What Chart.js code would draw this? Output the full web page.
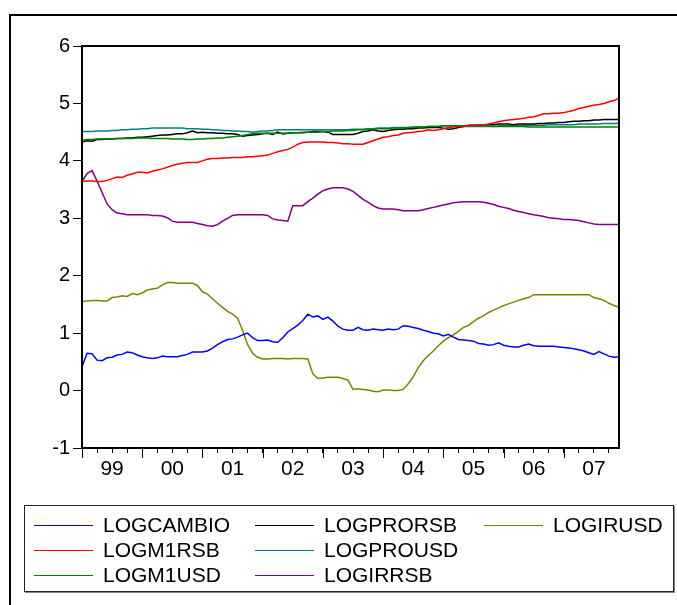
<!DOCTYPE html>
<html><head><meta charset="utf-8">
<script src="https://cdn.jsdelivr.net/npm/chart.js@4"></script>
<style>
html,body{margin:0;padding:0;background:#fff;}
#wrap{position:relative;width:677px;height:605px;overflow:hidden;}
#frame{position:absolute;left:9px;top:14px;width:720px;height:640px;border-left:2px solid #000;border-top:2px solid #000;}
canvas{position:absolute;left:0;top:0;}
#legend{position:absolute;left:24px;top:505px;width:648px;height:85px;border:1px solid #222;box-shadow:1px 1px 0 #888;font-family:"Liberation Sans",Arial,sans-serif;font-size:21px;color:#000;}
.item{position:absolute;display:flex;align-items:center;height:24px;white-space:nowrap;}
.item .l{display:inline-block;width:59px;height:0;border-top:1.5px solid;margin-right:10px;}
</style></head>
<body><div id="wrap"><div id="frame"></div><canvas id="c" width="677" height="605"></canvas><div id="legend"></div></div>
<script>
const years = ['1999','2000','2001','2002','2003','2004','2005','2006','2007'];
const yearTickLabels = ['99','00','01','02','03','04','05','06','07'];
const monthNames = ['01','02','03','04','05','06','07','08','09','10','11','12'];
const categories = [];
years.forEach(y => monthNames.forEach(m => categories.push(y + 'M' + m)));
const yTicks = [-1,0,1,2,3,4,5,6];

const LOGCAMBIO = [0.41,0.65,0.64,0.53,0.52,0.57,0.58,0.62,0.63,0.67,0.66,0.62,
0.59,0.57,0.56,0.57,0.60,0.59,0.59,0.59,0.61,0.63,0.67,0.67,
0.67,0.69,0.74,0.80,0.85,0.89,0.90,0.93,0.97,1.00,0.92,0.87,
0.87,0.88,0.85,0.84,0.92,1.02,1.08,1.14,1.22,1.33,1.28,1.30,
1.24,1.28,1.21,1.12,1.07,1.05,1.05,1.10,1.06,1.05,1.07,1.06,
1.05,1.07,1.06,1.07,1.13,1.12,1.10,1.08,1.05,1.03,1.00,0.99,
0.95,0.98,0.93,0.89,0.88,0.87,0.86,0.82,0.81,0.79,0.80,0.83,
0.79,0.77,0.76,0.76,0.79,0.81,0.78,0.77,0.77,0.77,0.77,0.76,
0.75,0.74,0.73,0.71,0.69,0.66,0.63,0.68,0.64,0.60,0.58,0.59];

const LOGM1RSB = [3.64,3.65,3.65,3.64,3.64,3.66,3.69,3.72,3.71,3.75,3.77,3.80,
3.80,3.79,3.82,3.84,3.86,3.89,3.92,3.94,3.96,3.97,3.97,3.97,
4.00,4.03,4.04,4.04,4.05,4.05,4.06,4.06,4.06,4.07,4.07,4.08,
4.09,4.10,4.13,4.16,4.18,4.20,4.24,4.29,4.32,4.33,4.33,4.33,
4.33,4.32,4.32,4.31,4.30,4.30,4.29,4.29,4.29,4.32,4.35,4.38,
4.41,4.42,4.44,4.45,4.48,4.49,4.50,4.51,4.52,4.54,4.53,4.54,
4.56,4.58,4.59,4.60,4.60,4.61,4.62,4.63,4.63,4.64,4.66,4.68,
4.70,4.71,4.72,4.73,4.74,4.76,4.77,4.79,4.82,4.82,4.83,4.83,
4.84,4.86,4.88,4.91,4.93,4.95,4.97,4.98,5.00,5.03,5.05,5.09];

const LOGM1USD = [4.36,4.37,4.37,4.38,4.38,4.38,4.38,4.39,4.39,4.39,4.39,4.40,
4.40,4.40,4.39,4.39,4.39,4.39,4.38,4.38,4.38,4.37,4.37,4.38,
4.38,4.39,4.39,4.40,4.40,4.41,4.42,4.43,4.44,4.46,4.47,4.48,
4.48,4.48,4.48,4.48,4.48,4.48,4.49,4.49,4.50,4.50,4.50,4.50,
4.51,4.51,4.52,4.52,4.52,4.53,4.53,4.54,4.54,4.55,4.55,4.56,
4.56,4.56,4.57,4.57,4.57,4.58,4.58,4.59,4.59,4.60,4.60,4.60,
4.61,4.61,4.61,4.61,4.61,4.61,4.61,4.61,4.61,4.61,4.60,4.60,
4.60,4.60,4.60,4.60,4.60,4.59,4.59,4.59,4.59,4.59,4.59,4.59,
4.59,4.59,4.59,4.59,4.59,4.59,4.59,4.59,4.59,4.59,4.59,4.59];

const LOGPRORSB = [4.33,4.35,4.34,4.37,4.37,4.38,4.38,4.39,4.39,4.40,4.40,4.41,
4.41,4.42,4.43,4.44,4.45,4.45,4.46,4.47,4.47,4.49,4.52,4.49,
4.50,4.49,4.49,4.48,4.48,4.47,4.47,4.46,4.43,4.44,4.45,4.46,
4.47,4.48,4.46,4.50,4.47,4.48,4.49,4.49,4.49,4.50,4.51,4.51,
4.51,4.50,4.46,4.46,4.46,4.46,4.46,4.48,4.51,4.52,4.54,4.52,
4.51,4.53,4.54,4.55,4.55,4.56,4.56,4.57,4.57,4.58,4.58,4.58,
4.57,4.55,4.56,4.58,4.60,4.62,4.62,4.62,4.63,4.63,4.63,4.64,
4.64,4.64,4.63,4.64,4.64,4.64,4.64,4.65,4.65,4.66,4.66,4.67,
4.67,4.68,4.69,4.69,4.70,4.70,4.71,4.71,4.72,4.72,4.72,4.72];

const LOGPROUSD = [4.51,4.51,4.51,4.52,4.52,4.52,4.53,4.53,4.54,4.54,4.55,4.55,
4.56,4.56,4.57,4.57,4.57,4.57,4.57,4.57,4.57,4.56,4.56,4.56,
4.55,4.55,4.54,4.54,4.53,4.53,4.52,4.52,4.51,4.51,4.50,4.51,
4.52,4.52,4.53,4.54,4.54,4.54,4.54,4.54,4.54,4.54,4.54,4.54,
4.54,4.54,4.54,4.54,4.54,4.54,4.55,4.55,4.55,4.56,4.56,4.57,
4.57,4.57,4.58,4.58,4.58,4.58,4.59,4.59,4.59,4.60,4.60,4.60,
4.61,4.61,4.61,4.61,4.60,4.60,4.60,4.60,4.60,4.60,4.60,4.61,
4.61,4.61,4.61,4.61,4.62,4.62,4.62,4.62,4.62,4.63,4.63,4.63,
4.63,4.63,4.63,4.64,4.64,4.64,4.64,4.64,4.65,4.65,4.65,4.65];

const LOGIRRSB = [3.64,3.78,3.83,3.65,3.45,3.25,3.15,3.09,3.08,3.06,3.06,3.06,
3.06,3.06,3.05,3.05,3.04,3.01,2.95,2.93,2.93,2.93,2.93,2.91,
2.89,2.87,2.86,2.89,2.95,3.00,3.05,3.06,3.06,3.06,3.06,3.06,
3.06,3.05,2.99,2.97,2.96,2.95,3.22,3.22,3.22,3.29,3.35,3.42,
3.48,3.51,3.53,3.53,3.53,3.51,3.47,3.40,3.33,3.28,3.22,3.18,
3.16,3.16,3.16,3.15,3.13,3.13,3.13,3.13,3.15,3.17,3.19,3.21,
3.23,3.25,3.27,3.28,3.29,3.29,3.29,3.29,3.28,3.26,3.24,3.21,
3.19,3.17,3.14,3.12,3.10,3.08,3.06,3.05,3.03,3.01,3.00,2.99,
2.98,2.98,2.97,2.96,2.94,2.92,2.90,2.89,2.89,2.89,2.89,2.89];

const LOGIRUSD = [1.55,1.56,1.57,1.57,1.56,1.56,1.62,1.63,1.65,1.64,1.69,1.67,
1.70,1.75,1.77,1.78,1.84,1.88,1.88,1.87,1.87,1.87,1.87,1.83,
1.72,1.68,1.60,1.52,1.45,1.38,1.33,1.26,1.05,0.80,0.65,0.58,
0.55,0.55,0.56,0.56,0.56,0.55,0.56,0.56,0.56,0.55,0.29,0.21,
0.22,0.23,0.23,0.23,0.21,0.18,0.02,0.03,0.02,0.01,-0.01,-0.02,
0.01,0.01,0.00,0.00,0.02,0.12,0.24,0.40,0.52,0.61,0.69,0.78,
0.86,0.92,0.97,1.03,1.10,1.13,1.20,1.26,1.30,1.36,1.40,1.44,
1.48,1.51,1.54,1.57,1.60,1.62,1.67,1.67,1.67,1.67,1.67,1.67,
1.67,1.67,1.67,1.67,1.67,1.67,1.62,1.60,1.57,1.52,1.48,1.45];

const seriesNames = ['LOGCAMBIO','LOGM1RSB','LOGM1USD','LOGPRORSB','LOGPROUSD','LOGIRRSB','LOGIRUSD'];
const seriesData = [LOGCAMBIO,LOGM1RSB,LOGM1USD,LOGPRORSB,LOGPROUSD,LOGIRRSB,LOGIRUSD];
const seriesColors = ['#0000ff','#ff0000','#008000','#000000','#008080','#800080','#808000'];

const axisFont = {family:'"Liberation Sans", Arial, sans-serif', size:20};

const framePlugin = {
  id:'frame',
  afterDraw(chart){
    const {ctx, chartArea:a, scales:{x}} = chart;
    ctx.save();
    ctx.strokeStyle = '#000';
    ctx.lineWidth = 1;
    for (let i = 0; i < categories.length; i += 12) {
      const px = Math.round(x.getPixelForValue(i)) + 0.5;
      ctx.beginPath(); ctx.moveTo(px, a.bottom); ctx.lineTo(px, a.bottom + 10); ctx.stroke();
    }
    ctx.lineWidth = 2;
    ctx.strokeRect(a.left, a.top, a.right - a.left, a.bottom - a.top);
    ctx.restore();
  }
};

const chart = new Chart(document.getElementById('c'), {
  type:'line',
  data:{
    labels: categories,
    datasets: seriesNames.map((n,k)=>({
      label:n, data:seriesData[k], borderColor:seriesColors[k], backgroundColor:seriesColors[k],
      borderWidth:1.5, pointRadius:0, tension:0, fill:false
    }))
  },
  options:{
    responsive:false, animation:false, devicePixelRatio:1,
    layout:{padding:{left:0,right:58,top:46,bottom:117}},
    plugins:{legend:{display:false}, tooltip:{enabled:false}},
    scales:{
      x:{
        type:'category', offset:false,
        afterFit(s){ s.height = 40; },
        grid:{drawOnChartArea:false, tickLength:5, color:(c)=> (c.index % 3 === 0 ? '#000' : 'rgba(0,0,0,0)'), lineWidth:1},
        border:{display:true, color:'#000', width:2},
        ticks:{autoSkip:false, maxRotation:0, minRotation:0, padding:4, color:'#000', font:{...axisFont, size:21},
          callback:(v,i)=> (i % 12 === 6 ? yearTickLabels[Math.floor(i/12)] : '')}
      },
      y:{
        min:yTicks[0], max:yTicks[yTicks.length-1],
        afterFit(s){ s.width = 82; },
        afterBuildTicks(s){ s.ticks = yTicks.map(v=>({value:v})); },
        grid:{drawOnChartArea:false, tickLength:9, color:'#000', lineWidth:1},
        border:{display:true, color:'#000', width:2},
        ticks:{padding:3, color:'#000', font:axisFont}
      }
    }
  },
  plugins:[framePlugin]
});

const legendEl = document.getElementById('legend');
const colX = [9, 230, 459];
const rowTop = [7, 32, 57];
chart.data.datasets.forEach((ds,k)=>{
  const it = document.createElement('div');
  it.className = 'item';
  it.style.left = colX[Math.floor(k/3)] + 'px';
  it.style.top = rowTop[k % 3] + 'px';
  const ln = document.createElement('span');
  ln.className = 'l'; ln.style.borderTopColor = ds.borderColor;
  const tx = document.createElement('span');
  tx.textContent = ds.label;
  it.appendChild(ln); it.appendChild(tx);
  legendEl.appendChild(it);
});
</script></body></html>
